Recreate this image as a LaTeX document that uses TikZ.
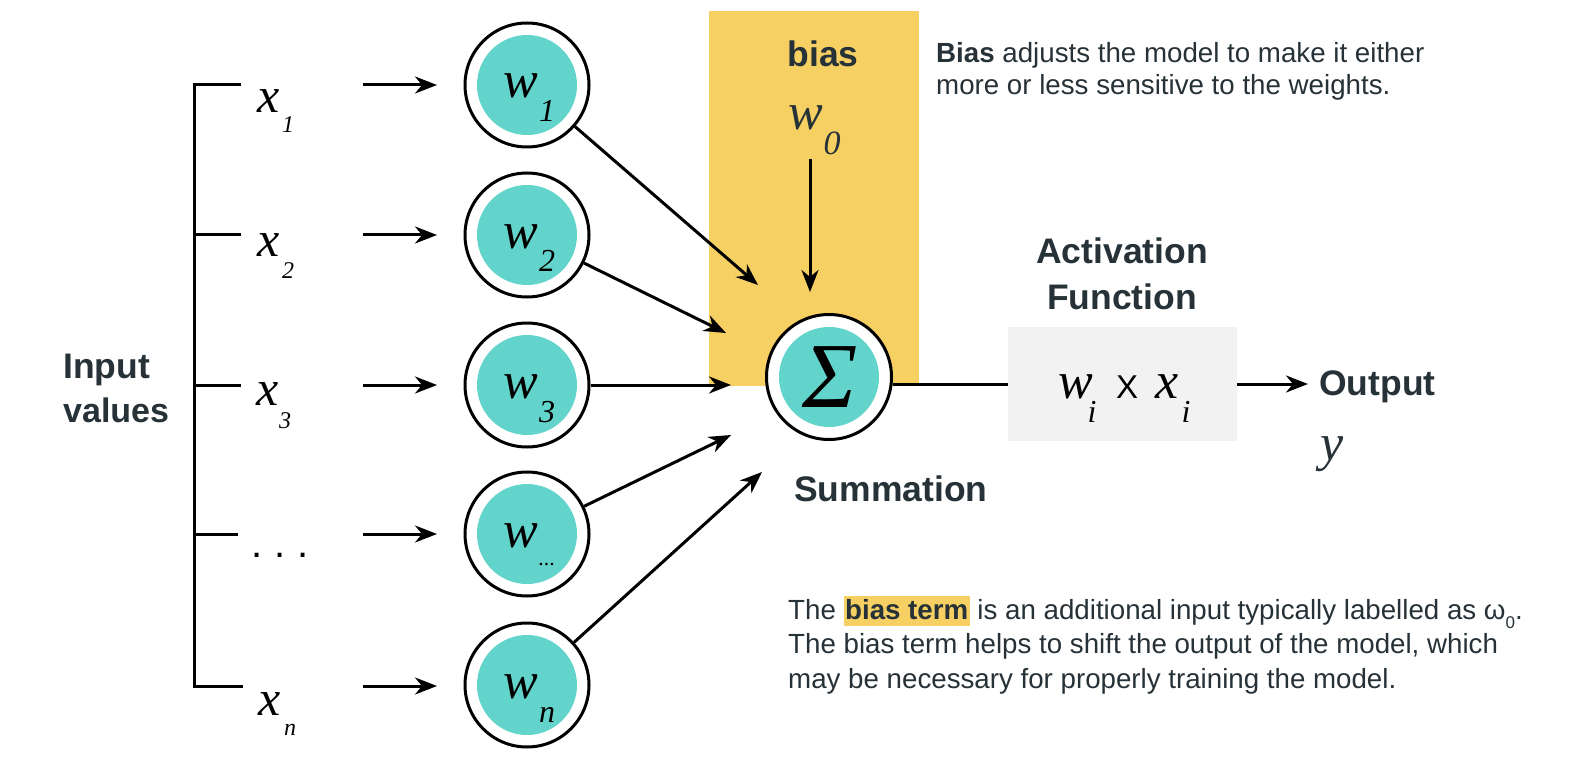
\documentclass[tikz,border=0pt]{standalone}
\usepackage{fontspec}
\setmainfont{Liberation Sans}
\newfontfamily\serifit{Liberation Serif Italic}
\usetikzlibrary{arrows.meta,calc}
\definecolor{tealc}{RGB}{99,212,203}
\definecolor{ybias}{RGB}{246,208,99}
\definecolor{txtc}{RGB}{38,50,56}
\definecolor{gboxc}{RGB}{242,242,242}
\newcommand\hl[1]{{\setlength\fboxsep{1.5pt}\colorbox{ybias}{\rule[-5pt]{0pt}{27pt}\bfseries #1}}}
\begin{document}
\begin{tikzpicture}[x=1pt,y=-1pt,
  ln/.style={line width=3pt,draw=black},
  arr/.style={ln,-{Stealth[length=22pt,width=17pt,inset=7pt]}},
  wc/.style={circle,draw=black,line width=3pt,fill=white,minimum size=124pt,inner sep=0pt,
    path picture={\fill[tealc] (path picture bounding box.center) circle (50pt);}},
  mlab/.style={inner sep=0pt,anchor=base,font=\fontsize{52}{52}\selectfont\serifit},
  wsub/.style={inner sep=0pt,anchor=base,font=\fontsize{32}{32}\selectfont\serifit},
  xlab/.style={inner sep=0pt,anchor=base,font=\fontsize{50}{50}\selectfont\serifit},
  xsub/.style={inner sep=0pt,anchor=base,font=\fontsize{24}{24}\selectfont\serifit},
  head/.style={inner sep=0pt,anchor=base,text=txtc,font=\fontsize{35.5}{44}\selectfont\bfseries},
  body/.style={inner sep=0pt,anchor=base west,text=txtc,font=\fontsize{27.7}{34}\selectfont}
]
\path[use as bounding box,fill=white] (0,0) rectangle (1596,770);

% bias box
\node[fill=ybias,minimum width=210pt,minimum height=375pt,inner sep=0pt,anchor=north west] (biasbox) at (709,11) {};
% activation box
\node[fill=gboxc,minimum width=229pt,minimum height=114pt,inner sep=0pt] (act) at (1122.5,384) {};

% bracket
\draw[ln] (241,85) -- (194,85) -- (194,686) -- (243,686);
\draw[ln] (194,235) -- (241,235);
\draw[ln] (194,385) -- (241,385);
\draw[ln] (194,534) -- (238,534);

% weight circles
\node[wc] (w1) at (527,85) {};
\node[wc] (w2) at (527,235) {};
\node[wc] (w3) at (527,385) {};
\node[wc] (w4) at (527,534) {};
\node[wc] (w5) at (527,685) {};
\node[wc,minimum size=125pt] (sig) at (829,377) {};

% input arrows
\foreach \i/\r in {1/85,2/235,3/385,4/534,5/686}{
  \coordinate (s\i) at (363,\r);
  \coordinate (e\i) at (437,\r);
  \draw[arr] (s\i) -- (e\i);
}

% arrows to summation
\coordinate (t1) at (758,285);
\coordinate (t2) at (726,333);
\coordinate (t3) at (731,385);
\coordinate (t4) at (731,435);
\coordinate (t5) at (762,472);
\foreach \i in {1,...,5}{\draw[arr] (w\i) -- (t\i);}
\coordinate (bs) at (810,159);
\coordinate (bt) at (810,292);
\draw[arr] (bs) -- (bt);

% summation to activation to output
\draw[ln] (act.west -| sig.east) -- (act.west);
\coordinate (ot) at (1308,384);
\draw[arr] (act.east) -- (ot);

% labels in circles
\foreach \i/\s in {1/1,2/2,3/3,5/n}{
  \node[mlab] (wl\i) at ($(w\i)+(-6,13)$) {w};
  \node[wsub] (ws\i) at ($(w\i)+(20,37)$) {\s};
}
\node[mlab] (wl4) at ($(w4)+(-6,13)$) {w};
\node[wsub] (ws4) at ($(w4)+(20,31)$) {\fontsize{22}{22}\selectfont...};
\node[inner sep=0pt,font=\fontsize{93}{93}\selectfont\serifit] (sigl) at (830,377) {Σ};

% x labels
\node[xlab] (x1) at (269,113) {x};
\node[xsub] (x1s) at (288,133) {1};
\node[xlab] (x2) at (269,257) {x};
\node[xsub] (x2s) at (288,278) {2};
\node[xlab] (x3) at (268,405) {x};
\node[xsub] (x3s) at (285,428) {3};
\node[inner sep=0pt,anchor=base,font=\fontsize{40}{40}\selectfont] (xd) at (280,557) {.\hspace{12pt}.\hspace{12pt}.};
\node[xlab] (xn) at (270,715) {x};
\node[xsub] (xns) at (290,735) {n};

% bias label and w0
\node[head] (biast) at (823,67) {bias};
\node[mlab,text=txtc] (w0) at (806,130) {w};
\node[xsub,text=txtc,font=\fontsize{34}{34}\selectfont\serifit] (w0s) at (832,155) {0};

% headings
\node[head,anchor=base west] (in1) at (63,378) {Input};
\node[head,anchor=base west,font=\fontsize{34}{44}\selectfont\bfseries] (in2) at (63,422) {values};
\node[head] (ac1) at (1122,264) {Activation};
\node[head] (ac2) at (1122,309) {Function};
\node[head,anchor=base west] (sumt) at (794,501) {Summation};
\node[head,anchor=base west] (outt) at (1319,395) {Output};
\node[mlab,text=txtc] (yl) at (1332,460) {y};

% activation formula
\node[mlab] (fw) at (1076,398) {w};
\node[wsub] (fwi) at (1092,422) {i};
\node[inner sep=0pt,anchor=base,font=\fontsize{33}{33}\selectfont] (fx) at (1127,398) {X};
\node[mlab] (fxx) at (1167,398) {x};
\node[wsub] (fxi) at (1186,422) {i};

% top paragraph
\node[body] (p1) at (936,63) {\textbf{Bias} adjusts the model to make it either};
\node[body] (p2) at (936,95) {more or less sensitive to the weights.};

% bottom paragraph
\node[body] (q1) at (788,619) {The \hl{bias term} is an additional input typically labelled as ω\raisebox{-9pt}{\fontsize{17}{17}\selectfont 0}.};
\node[body] (q2) at (788,653) {The bias term helps to shift the output of the model, which};
\node[body] (q3) at (788,688) {may be necessary for properly training the model.};
\end{tikzpicture}
\end{document}
